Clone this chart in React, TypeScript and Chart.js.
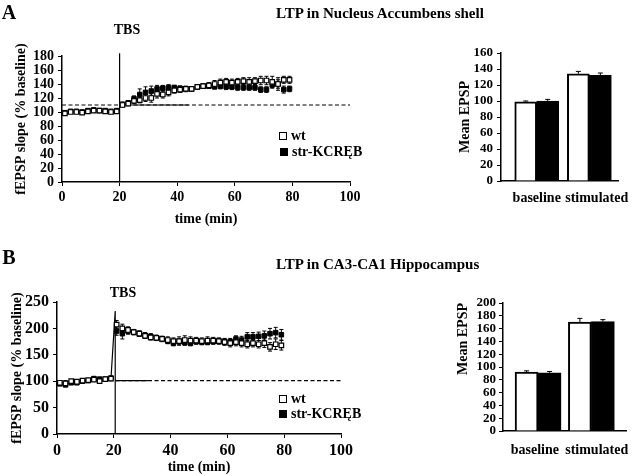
import React, { useEffect, useRef } from "react";
import { Chart, registerables } from "chart.js";

Chart.register(...registerables);

const FONT = "'Liberation Serif', 'Times New Roman', serif";
Chart.defaults.font.family = FONT;
Chart.defaults.font.weight = "bold";
Chart.defaults.color = "#000";

// ---------- data ----------
const minutes = [1, 3, 5, 7, 9, 11, 13, 15, 17, 19, 21, 23, 25, 27, 29, 31, 33, 35, 37, 39, 41, 43, 45, 47, 49, 51, 53, 55, 57, 59, 61, 63, 65, 67, 69, 71, 73, 75, 77, 79];

// Panel A : Nucleus Accumbens shell
const nacWt = [98, 100, 100, 99, 101, 102, 102, 101, 100, 101, 110, 112, 116, 117, 120, 120, 126, 125, 128, 131, 132, 133, 133, 136, 137, 138, 140, 142, 143, 142, 143, 144, 143, 144, 145, 145, 143, 140, 146, 146];
const nacWtErr = [2, 2, 2, 2, 2, 2, 2, 2, 2, 2, 3, 3, 4, 4, 5, 6, 6, 5, 5, 4, 4, 4, 3, 3, 3, 4, 5, 5, 5, 5, 5, 5, 6, 5, 6, 6, 8, 9, 5, 5];
const nacKc = [99, 101, 101, 100, 102, 103, 102, 102, 101, 102, 111, 113, 119, 125, 128, 130, 133, 134, 135, 135, 134, 133, 133, 136, 137, 137, 136, 137, 136, 136, 135, 135, 135, 135, 132, 132, 139, 140, 132, 133];
const nacKcErr = [2, 2, 2, 2, 2, 2, 2, 2, 2, 2, 3, 3, 4, 8, 8, 7, 5, 4, 4, 3, 3, 3, 3, 3, 3, 3, 3, 4, 4, 4, 4, 4, 4, 4, 4, 4, 5, 6, 5, 4];
const nacRefLevel = 110;

// Panel B : CA3-CA1 Hippocampus
const hipWt = [97, 96, 100, 99, 101, 102, 103, 100, 104, 105, 207, 200, 197, 193, 190, 186, 183, 182, 180, 178, 176, 176, 178, 177, 177, 176, 177, 177, 176, 174, 172, 174, 172, 170, 172, 170, 172, 165, 170, 168];
const hipWtErr = [3, 3, 3, 3, 3, 3, 3, 3, 3, 3, 8, 8, 6, 5, 5, 5, 5, 5, 5, 6, 6, 8, 8, 7, 6, 6, 7, 6, 6, 6, 7, 7, 7, 7, 7, 7, 8, 8, 10, 9];
const hipKc = [95, 93, 97, 97, 100, 101, 105, 104, 104, 106, 195, 190, 195, 193, 190, 187, 185, 182, 180, 176, 172, 175, 173, 172, 175, 174, 174, 175, 176, 175, 175, 180, 178, 184, 184, 185, 186, 190, 192, 188];
const hipKcErr = [3, 3, 3, 3, 3, 3, 3, 3, 3, 3, 8, 10, 6, 5, 5, 5, 5, 5, 5, 5, 5, 5, 5, 5, 5, 5, 5, 5, 5, 6, 6, 6, 7, 8, 8, 8, 9, 10, 10, 10];
const hipRefLevel = 101;
const hipPeak = 233;

// Bar charts
const barCats = ["baseline", "stimulated"];
const barNacWt = [99, 134];
const barNacWtErr = [1, 3];
const barNacKc = [100, 132];
const barNacKcErr = [2, 3];
const barHipWt = [92, 170];
const barHipWtErr = [2, 6];
const barHipKc = [91, 171];
const barHipKcErr = [2, 3];

// ---------- error bar plugin ----------
function drawErrors(chart: any, opts: any) {
  const ctx = chart.ctx;
  const yScale = chart.scales.y;
  ctx.save();
  ctx.strokeStyle = "#000";
  ctx.lineWidth = 1;
  chart.data.datasets.forEach((ds: any, di: number) => {
    const errs = ds.errors;
    if (!errs) return;
    const meta = chart.getDatasetMeta(di);
    meta.data.forEach((el: any, i: number) => {
      const v = ds.data[i].y;
      const e = errs[i];
      const x = el.x;
      const yTop = yScale.getPixelForValue(v + e);
      const yBot = opts.upOnly ? yScale.getPixelForValue(v) : yScale.getPixelForValue(v - e);
      const cap = opts.cap || 2;
      ctx.beginPath();
      ctx.moveTo(x, yBot);
      ctx.lineTo(x, yTop);
      ctx.moveTo(x - cap, yTop);
      ctx.lineTo(x + cap, yTop);
      if (!opts.upOnly) {
        ctx.moveTo(x - cap, yBot);
        ctx.lineTo(x + cap, yBot);
      }
      ctx.stroke();
    });
  });
  ctx.restore();
}

const errorBarPlugin = {
  id: "errorBars",
  beforeDatasetsDraw(chart: any, _args: any, opts: any) {
    if (opts && opts.phase === "before") drawErrors(chart, opts);
  },
  afterDatasetsDraw(chart: any, _args: any, opts: any) {
    if (opts && opts.phase === "after") drawErrors(chart, opts);
  },
};

// ---------- configs ----------
const axisBorder = { display: true, color: "#000", width: 1.5 };

function lineConfig(p: {
  wt: number[]; wtErr: number[]; kc: number[]; kcErr: number[];
  ref: number; yMax: number; yStep: number; tickSize: number;
  extraLines: any[]; pad: any; xH: number; yW: number; yTitlePad: number; titlePadBottom: number;
}) {
  return {
    type: "line",
    data: {
      datasets: [
        {
          label: "wt",
          data: minutes.map((m, i) => ({ x: m, y: p.wt[i] })),
          errors: p.wtErr,
          showLine: false,
          pointStyle: "rect",
          pointRadius: 3.2,
          pointBackgroundColor: "#fff",
          pointBorderColor: "#000",
          pointBorderWidth: 1.2,
        },
        {
          label: "str-KCREB",
          data: minutes.map((m, i) => ({ x: m, y: p.kc[i] })),
          errors: p.kcErr,
          showLine: false,
          pointStyle: "rect",
          pointRadius: 3.2,
          pointBackgroundColor: "#000",
          pointBorderColor: "#000",
          pointBorderWidth: 1,
        },
        {
          label: "ref",
          data: [{ x: 0, y: p.ref }, { x: 100, y: p.ref }],
          borderColor: "#000",
          borderWidth: 1.2,
          borderDash: [4, 2.5],
          pointRadius: 0,
          clip: false,
        },
        ...p.extraLines,
      ],
    },
    options: {
      animation: false,
      responsive: false,
      maintainAspectRatio: false,
      layout: { padding: p.pad },
      plugins: {
        legend: { display: false },
        tooltip: { enabled: false },
        errorBars: { phase: "before", cap: 2 },
      },
      scales: {
        x: {
          type: "linear",
          min: 0,
          max: 100,
          ticks: { stepSize: 20, font: { size: p.tickSize, weight: "bold" }, color: "#000", padding: 3 },
          grid: { display: true, drawOnChartArea: false, drawTicks: true, tickLength: 4, color: "#000" },
          border: axisBorder,
          title: {
            display: true,
            text: "time (min)",
            font: { size: 14, weight: "bold" },
            color: "#000",
            padding: { top: 0, bottom: p.titlePadBottom },
          },
          afterFit: (s: any) => { s.height = p.xH; },
        },
        y: {
          min: 0,
          max: p.yMax,
          ticks: { stepSize: p.yStep, font: { size: p.tickSize, weight: "bold" }, color: "#000", padding: 4, autoSkip: false },
          grid: { display: true, drawOnChartArea: false, drawTicks: true, tickLength: 4, color: "#000" },
          border: axisBorder,
          title: {
            display: true,
            text: "fEPSP slope (% baseline)",
            font: { size: 14, weight: "bold" },
            color: "#000",
            padding: { top: p.yTitlePad, bottom: 0 },
          },
          afterFit: (s: any) => { s.width = p.yW; },
        },
      },
    },
    plugins: [errorBarPlugin],
  };
}

function barConfig(p: {
  wt: number[]; wtErr: number[]; kc: number[]; kcErr: number[];
  yMax: number; xMin: number; xMax: number; thickness: number; labelAt: number[];
  pad: any; xH: number; yW: number; yTitlePad: number; titleAlign: string; labelPad: number; tickPad: number;
}) {
  return {
    type: "bar",
    data: {
      datasets: [
        {
          label: "wt",
          data: barCats.map((_c, i) => ({ x: i, y: p.wt[i] })),
          errors: p.wtErr,
          backgroundColor: "#fff",
          borderColor: "#000",
          borderWidth: 2,
          barThickness: p.thickness,
        },
        {
          label: "str-KCREB",
          data: barCats.map((_c, i) => ({ x: i, y: p.kc[i] })),
          errors: p.kcErr,
          backgroundColor: "#000",
          borderColor: "#000",
          borderWidth: 2,
          barThickness: p.thickness,
        },
      ],
    },
    options: {
      animation: false,
      responsive: false,
      maintainAspectRatio: false,
      layout: { padding: p.pad },
      plugins: {
        legend: { display: false },
        tooltip: { enabled: false },
        errorBars: { phase: "after", upOnly: true, cap: 2.5 },
      },
      scales: {
        x: {
          type: "linear",
          min: p.xMin,
          max: p.xMax,
          offset: false,
          afterBuildTicks: (s: any) => {
            s.ticks = p.labelAt.map((v) => ({ value: v }));
          },
          ticks: {
            autoSkip: false,
            maxRotation: 0,
            font: { size: 14, weight: "bold" },
            color: "#000",
            padding: p.labelPad,
            callback: (_v: any, i: number) => barCats[i],
          },
          grid: { display: false, drawTicks: false },
          border: axisBorder,
          afterFit: (s: any) => { s.height = p.xH; },
        },
        y: {
          min: 0,
          max: p.yMax,
          ticks: { stepSize: 20, autoSkip: false, font: { size: 13, weight: "bold" }, color: "#000", padding: p.tickPad },
          grid: { display: true, drawOnChartArea: false, drawTicks: true, tickLength: 4, color: "#000" },
          border: axisBorder,
          title: {
            display: true,
            text: "Mean EPSP",
            align: p.titleAlign,
            font: { size: 14, weight: "bold" },
            color: "#000",
            padding: { top: p.yTitlePad, bottom: 0 },
          },
          afterFit: (s: any) => { s.width = p.yW; },
        },
      },
    },
    plugins: [errorBarPlugin],
  };
}

// ---------- components ----------
function ChartBox(props: { make: () => any; left: number; top: number; width: number; height: number }) {
  const ref = useRef<HTMLCanvasElement>(null);
  useEffect(() => {
    const chart = new Chart(ref.current as HTMLCanvasElement, props.make());
    return () => chart.destroy();
  }, []);
  return (
    <canvas
      ref={ref}
      width={props.width}
      height={props.height}
      style={{ position: "absolute", left: props.left, top: props.top, width: props.width, height: props.height }}
    />
  );
}

function Label(props: { text: string; x: number; y: number; size: number; anchor?: "left" | "center" }) {
  const tx = props.anchor === "left" ? "0" : "-50%";
  return (
    <div
      style={{
        position: "absolute",
        left: props.x,
        top: props.y,
        transform: `translate(${tx}, -50%)`,
        fontFamily: FONT,
        fontWeight: "bold",
        fontSize: props.size,
        lineHeight: 1,
        whiteSpace: "nowrap",
        color: "#000",
      }}
    >
      {props.text}
    </div>
  );
}

function LegendItem(props: { x: number; y: number; filled: boolean; text: string }) {
  return (
    <>
      <div
        style={{
          position: "absolute",
          left: props.x - 4,
          top: props.y - 4,
          width: 8,
          height: 8,
          boxSizing: "border-box",
          border: "1px solid #000",
          background: props.filled ? "#000" : "#fff",
        }}
      />
      <Label text={props.text} x={props.x + 8} y={props.y} size={14} anchor="left" />
    </>
  );
}

export default function App() {
  const makeA = () =>
    lineConfig({
      wt: nacWt, wtErr: nacWtErr, kc: nacKc, kcErr: nacKcErr,
      ref: nacRefLevel, yMax: 180, yStep: 20, tickSize: 14,
      extraLines: [
        { label: "refSolid", data: [{ x: 20, y: nacRefLevel }, { x: 44, y: nacRefLevel }], borderColor: "#000", borderWidth: 1.2, pointRadius: 0 },
        { label: "TBS", data: [{ x: 20, y: 0 }, { x: 20, y: 184 }], borderColor: "#000", borderWidth: 1.2, pointRadius: 0, clip: false },
      ],
      pad: { left: 0, top: 56, right: 15, bottom: 0 },
      xH: 50, yW: 62, yTitlePad: 13, titlePadBottom: 4.6,
    });
  const makeB = () =>
    lineConfig({
      wt: hipWt, wtErr: hipWtErr, kc: hipKc, kcErr: hipKcErr,
      ref: hipRefLevel, yMax: 250, yStep: 50, tickSize: 16,
      extraLines: [
        { label: "refSolid", data: [{ x: 20.5, y: hipRefLevel }, { x: 32, y: hipRefLevel }], borderColor: "#000", borderWidth: 1.2, pointRadius: 0 },
        { label: "TBS", data: [{ x: 20.5, y: 0 }, { x: 20.5, y: hipPeak }, { x: 19, y: hipWt[9] }], borderColor: "#000", borderWidth: 1.2, pointRadius: 0 },
      ],
      pad: { left: 0, top: 64, right: 24, bottom: 0 },
      xH: 42, yW: 57, yTitlePad: 8.6, titlePadBottom: 0.6,
    });
  const makeBarA = () =>
    barConfig({
      wt: barNacWt, wtErr: barNacWtErr, kc: barNacKc, kcErr: barNacKcErr,
      yMax: 160, xMin: -0.679, xMax: 1.56, thickness: 22, labelAt: [0.0, 1.14],
      pad: { left: 0, top: 53, right: 17, bottom: 0 },
      xH: 49, yW: 61, yTitlePad: 16.6, titleAlign: "center", labelPad: 8.6, tickPad: 4,
    });
  const makeBarB = () =>
    barConfig({
      wt: barHipWt, wtErr: barHipWtErr, kc: barHipKc, kcErr: barHipKcErr,
      yMax: 200, xMin: -0.658, xMax: 1.658, thickness: 23, labelAt: [-0.06, 1.1],
      pad: { left: 0, top: 65, right: 5, bottom: 0 },
      xH: 45, yW: 63, yTitlePad: 14.6, titleAlign: "end", labelPad: 10.6, tickPad: 3,
    });

  return (
    <div style={{ position: "absolute", left: 0, top: 0, width: 640, height: 476, background: "#fff", overflow: "hidden" }}>
      <ChartBox make={makeA} left={0} top={0} width={365} height={232} />
      <ChartBox make={makeBarA} left={440} top={0} width={200} height={230} />
      <ChartBox make={makeB} left={0} top={238} width={365} height={238} />
      <ChartBox make={makeBarB} left={440} top={238} width={200} height={238} />

      <Label text="A" x={9} y={12} size={20} />
      <Label text="LTP in Nucleus Accumbens shell" x={276} y={13} size={15} anchor="left" />
      <Label text="TBS" x={127} y={30} size={14} />
      <LegendItem x={283} y={136} filled={false} text="wt" />
      <LegendItem x={284} y={152} filled={true} text="str-KCRĘB" />

      <Label text="B" x={9} y={257} size={20} />
      <Label text="LTP in CA3-CA1 Hippocampus" x={276} y={264} size={15} anchor="left" />
      <Label text="TBS" x={123} y={293} size={14} />
      <LegendItem x={283} y={399} filled={false} text="wt" />
      <LegendItem x={283} y={414} filled={true} text="str-KCRĘB" />
    </div>
  );
}
